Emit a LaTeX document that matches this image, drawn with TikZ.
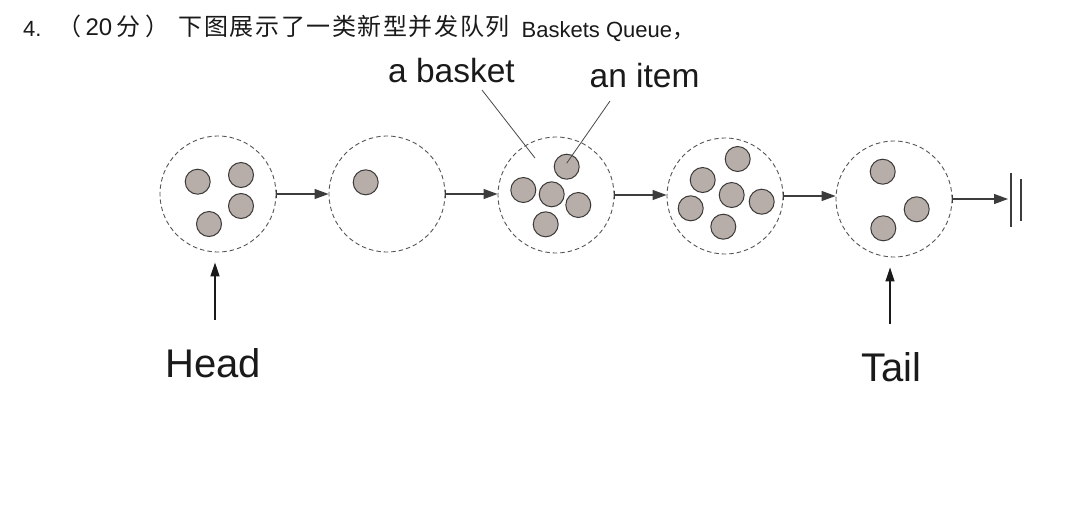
\documentclass[tikz,border=0pt]{standalone}
\usepackage{fontspec}
\setmainfont{Liberation Sans}
\newfontfamily\cjk{Noto Sans CJK SC}
\usetikzlibrary{arrows.meta}
\definecolor{itemfill}{HTML}{B7ADA9}
\definecolor{itemdraw}{HTML}{3C3A39}
\definecolor{dashgray}{HTML}{555555}
\definecolor{ink}{HTML}{1A1A1A}
\tikzset{
  basket/.style={circle, draw=dashgray, dash pattern=on 4.5pt off 3pt, line width=0.9pt, minimum size=116pt, inner sep=0pt},
  item/.style={circle, draw=itemdraw, fill=itemfill, line width=1pt, minimum size=25pt, inner sep=0pt},
  link/.style={draw=ink!85, line width=1.2pt, arrows={Bar[width=8pt,line width=1pt]-Triangle[length=14pt,width=10pt]}},
  ptr/.style={draw=ink, line width=1.2pt, arrows={-Triangle[length=14pt,width=9pt]}, shorten >=10pt},
  leader/.style={draw=ink!80, line width=0.8pt},
  termline/.style={draw=ink!85, line width=1.5pt},
  lbl/.style={inner sep=0pt, anchor=base west, text=ink},
}
\begin{document}
\begin{tikzpicture}[x=1pt,y=-1pt]
\useasboundingbox[fill=white] (0,0) rectangle (1065,520);

% title
\node[lbl, font=\fontsize{22}{26}\selectfont] (t1) at (23,36.5) {4.};
\node[lbl] (t2) at (57,35.5) {\hbox to 112pt{{\cjk\fontsize{24}{28}\selectfont （}\hfil{\fontsize{24}{28}\selectfont 20}\hfil{\cjk\fontsize{24}{28}\selectfont 分}\hfil{\cjk\fontsize{24}{28}\selectfont ）}}};
\node[lbl] (t3) at (178.5,35.5) {\cjk\fontsize{24}{28}\selectfont\hbox to 331pt{下\hfil 图\hfil 展\hfil 示\hfil 了\hfil 一\hfil 类\hfil 新\hfil 型\hfil 并\hfil 发\hfil 队\hfil 列}};
\node[lbl, font=\fontsize{22}{26}\selectfont] (t4) at (521.5,37) {Baskets Queue{\cjk ，}};

% baskets
\node[basket] (b1) at (218,194) {};
\node[basket] (b2) at (387,194) {};
\node[basket] (b3) at (556,195) {};
\node[basket] (b4) at (725,196) {};
\node[basket] (b5) at (894,199) {};

% items
\node[item] (i11) at (197.7,181.7) {};
\node[item] (i12) at (241,175) {};
\node[item] (i13) at (241,206) {};
\node[item] (i14) at (209,224) {};

\node[item] (i21) at (365.7,182.3) {};

\node[item] (i31) at (566.7,166.7) {};
\node[item] (i32) at (523.3,190) {};
\node[item] (i33) at (551.7,194.3) {};
\node[item] (i34) at (578.3,205) {};
\node[item] (i35) at (545.7,224.3) {};

\node[item] (i41) at (737.7,159) {};
\node[item] (i42) at (702.7,180) {};
\node[item] (i43) at (731.7,195) {};
\node[item] (i44) at (690.7,208.3) {};
\node[item] (i45) at (761.7,201.7) {};
\node[item] (i46) at (723.3,226.7) {};

\node[item] (i51) at (882.7,171.7) {};
\node[item] (i52) at (916.7,209.3) {};
\node[item] (i53) at (883.3,228.3) {};

% links
\draw[link] (b1.east) -- (b1.east -| b2.west);
\draw[link] (b2.east) -- (b2.east -| b3.west);
\draw[link] (b3.east) -- (b3.east -| b4.west);
\draw[link] (b4.east) -- (b4.east -| b5.west);
\coordinate (endp) at (1008,199);
\draw[link] (b5.east) -- (endp);

% terminator
\coordinate (g1a) at (1011,173);
\coordinate (g1b) at (1011,227);
\coordinate (g2a) at (1021,179);
\coordinate (g2b) at (1021,221);
\draw[termline] (g1a) -- (g1b);
\draw[termline] (g2a) -- (g2b);

% labels
\node[lbl, font=\fontsize{33.5}{40}\selectfont] (lb) at (388,82) {a basket};
\node[lbl, font=\fontsize{33.5}{40}\selectfont] (li) at (589.5,87) {an item};
\coordinate (lbA) at (482,90);
\coordinate (lbB) at (535,158);
\draw[leader] (lbA) -- (lbB);
\coordinate (liA) at (610,101);
\draw[leader] (liA) -- ([yshift=3.5pt]i31.center);

% head / tail
\node[lbl, font=\fontsize{40}{48}\selectfont] (head) at (165,377) {Head};
\node[lbl, font=\fontsize{40}{48}\selectfont] (tail) at (861,381) {Tail};
\coordinate (hbot) at (215,320);
\draw[ptr] (hbot) -- (hbot |- b1.south);
\coordinate (tbot) at (890,324);
\draw[ptr] (tbot) -- (tbot |- b5.south);
\end{tikzpicture}
\end{document}
